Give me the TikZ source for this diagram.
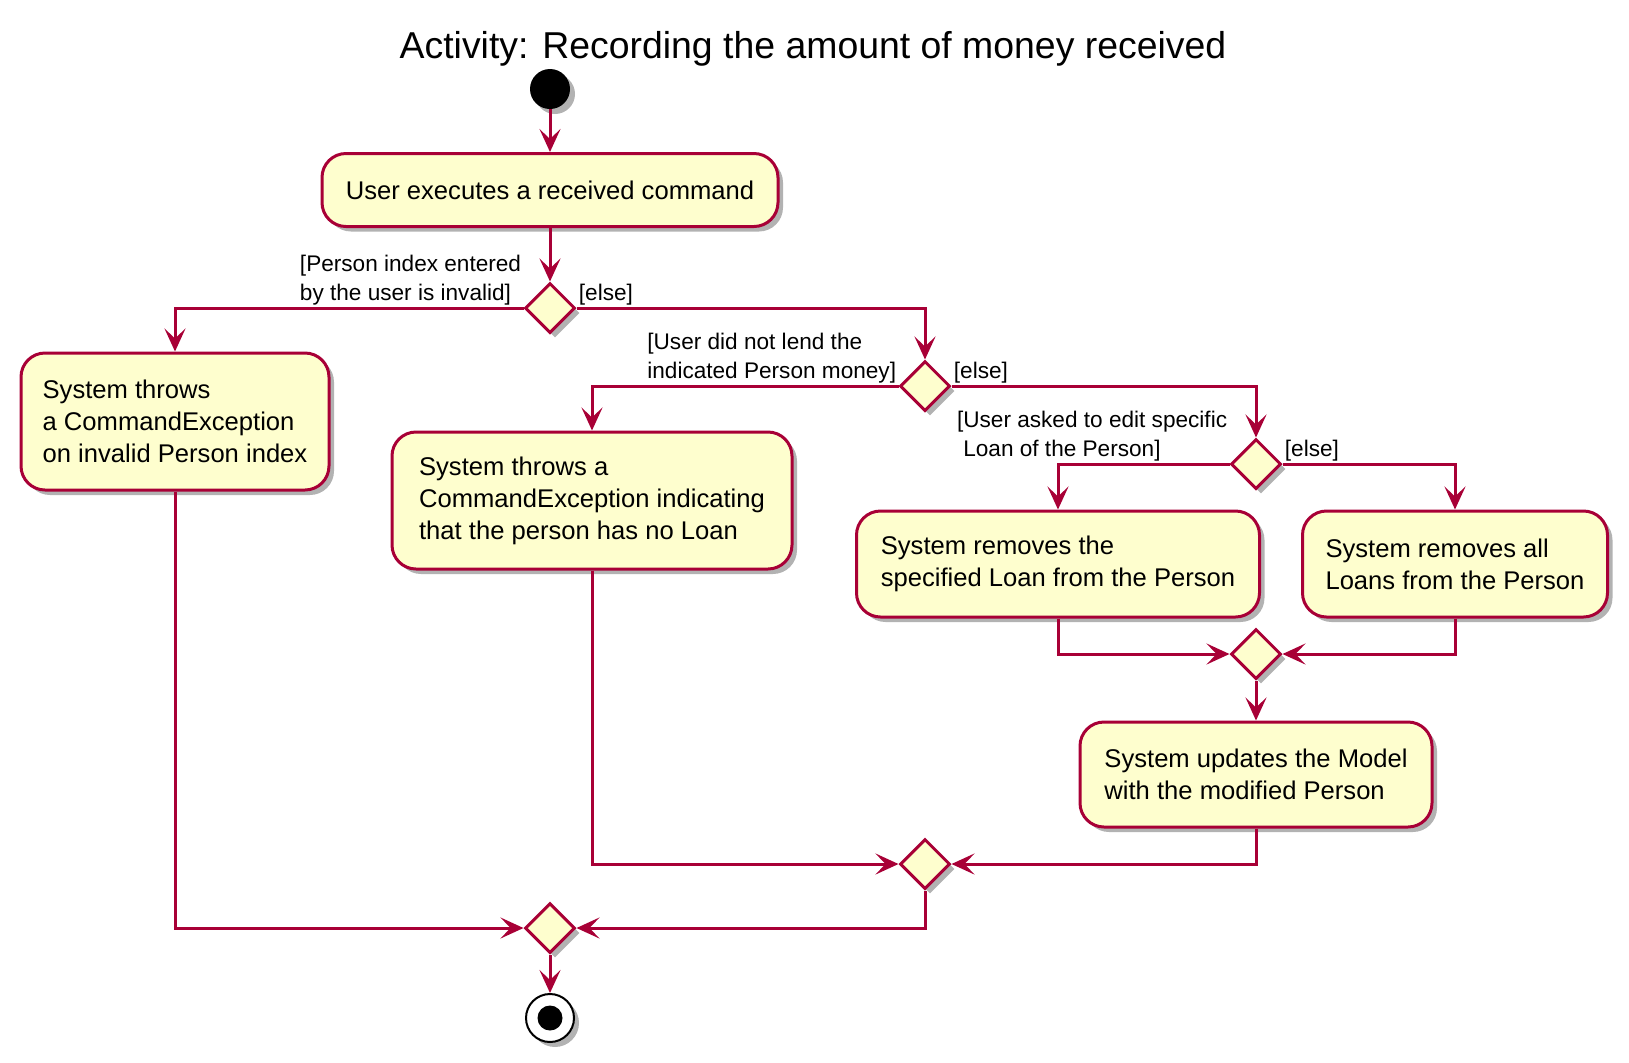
\documentclass[tikz,border=0pt]{standalone}
\usepackage{fontspec}
\setmainfont{Liberation Sans}
\usetikzlibrary{shapes.geometric, arrows.meta, shadows}
\definecolor{umlred}{HTML}{A80036}
\definecolor{umlfill}{HTML}{FEFECE}

\begin{document}
\begin{tikzpicture}[x=0.5pt, y=-0.5pt,
    umlshadow/.style={drop shadow={shadow xshift=2.5pt, shadow yshift=-2.5pt, fill=black, opacity=0.3}},
    flow/.style={draw=umlred, line width=1.5pt, -{Stealth[length=11.5pt, width=10.5pt, inset=5pt]}},
    action/.style={draw=umlred, fill=umlfill, line width=1.5pt, rounded corners=12pt, align=left, font=\fontsize{12.8}{16}\selectfont, umlshadow},
    branch/.style={diamond, aspect=1, draw=umlred, fill=umlfill, line width=1.5pt, minimum width=25pt, minimum height=25pt, inner sep=0pt, umlshadow},
    guard/.style={align=left, font=\fontsize{11.3}{14.5}\selectfont, inner sep=1pt}]

    \useasboundingbox (0,0) rectangle (1629,1062);

    % Titolo
    \node[font=\fontsize{18.7}{22}\selectfont] (title) at (813,49) {Activity: Recording the amount of money received};

    % Start
    \node[circle, fill=black, minimum size=20pt, inner sep=0pt, umlshadow] (start) at (550,89) {};
    \node[action, minimum width=228pt, minimum height=36.5pt] (received) at (550,190) {User executes a received command};
    \node[branch] (checkIndex) at (550,308) {};

    % Indice non valido
    \node[action, minimum width=154pt, minimum height=68.5pt] (invalidIndex) at (175,421.5) {System throws\\a CommandException\\on invalid Person index};

    % Nessun prestito
    \node[branch] (checkLoan) at (925,386) {};
    \node[action, minimum width=200pt, minimum height=68.5pt] (noLoan) at (592,500.5) {System throws a\\CommandException indicating\\that the person has no Loan};

    % Prestito specifico o tutti
    \node[branch] (checkEdit) at (1256,464) {};
    \node[action, minimum width=201.5pt, minimum height=53pt] (removeOne) at (1058,564) {System removes the\\specified Loan from the Person};
    \node[action, minimum width=152.5pt, minimum height=53pt] (removeAll) at (1455,564) {System removes all\\Loans from the Person};
    \node[branch] (mergeRemove) at (1256,654) {};
    \node[action, minimum width=176pt, minimum height=52.5pt] (updateModel) at (1256,774.5) {System updates the Model\\with the modified Person};

    % Merge finali
    \node[branch] (mergeLoan) at (925,864) {};
    \node[branch] (mergeAll) at (550,928) {};

    % Stop
    \node[circle, draw=black, fill=white, line width=1pt, minimum size=24pt, inner sep=0pt, umlshadow] (stop) at (550,1018) {};
    \node[circle, fill=black, minimum size=12.5pt, inner sep=0pt] (stopDot) at (stop) {};

    % Guardie
    \node[guard, anchor=south east] (gIndex) at (checkIndex.west) {[Person index entered\\by the user is invalid]};
    \node[guard, anchor=south west] (gIndexElse) at (checkIndex.east) {[else]};
    \node[guard, anchor=south east] (gLoan) at (checkLoan.west) {[User did not lend the\\indicated Person money]};
    \node[guard, anchor=south west] (gLoanElse) at (checkLoan.east) {[else]};
    \node[guard, anchor=south east] (gEdit) at (checkEdit.west) {[User asked to edit specific\\~Loan of the Person]};
    \node[guard, anchor=south west] (gEditElse) at (checkEdit.east) {[else]};

    % Frecce
    \draw[flow] (start) -- (received);
    \draw[flow] (received) -- (checkIndex);
    \draw[flow] (checkIndex.west) -| (invalidIndex.north);
    \draw[flow] (checkIndex.east) -| (checkLoan.north);
    \draw[flow] (checkLoan.west) -| (noLoan.north);
    \draw[flow] (checkLoan.east) -| (checkEdit.north);
    \draw[flow] (checkEdit.west) -| (removeOne.north);
    \draw[flow] (checkEdit.east) -| (removeAll.north);
    \draw[flow] (removeOne.south) |- (mergeRemove.west);
    \draw[flow] (removeAll.south) |- (mergeRemove.east);
    \draw[flow] (mergeRemove) -- (updateModel);
    \draw[flow] (noLoan.south) |- (mergeLoan.west);
    \draw[flow] (updateModel.south) |- (mergeLoan.east);
    \draw[flow] (invalidIndex.south) |- (mergeAll.west);
    \draw[flow] (mergeLoan.south) |- (mergeAll.east);
    \draw[flow] (mergeAll) -- (stop);

\end{tikzpicture}
\end{document}
